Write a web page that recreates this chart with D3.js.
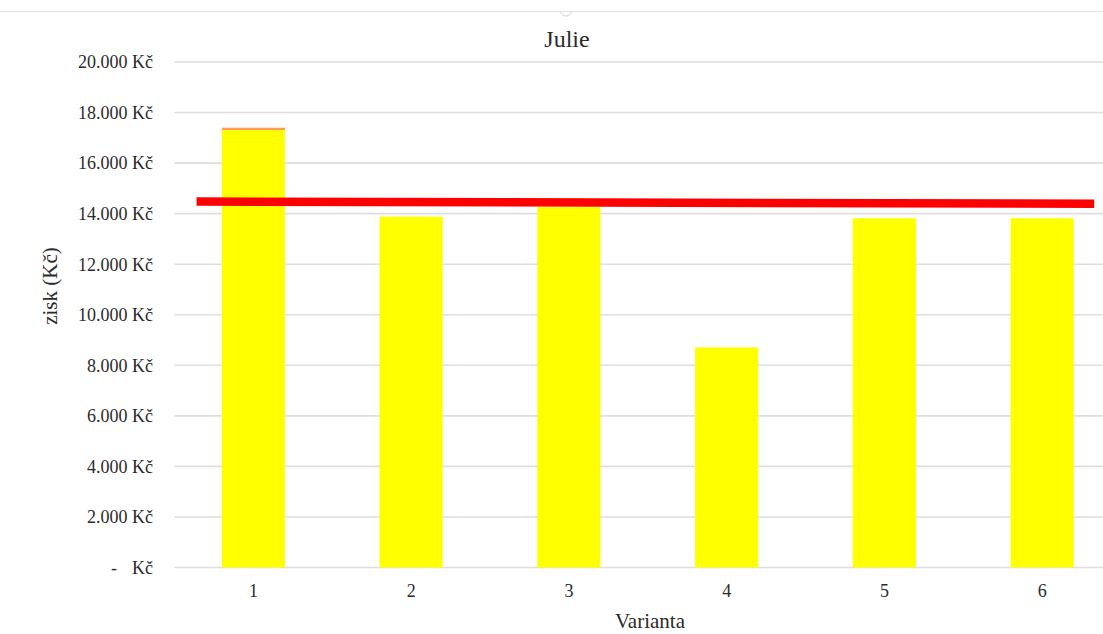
<!DOCTYPE html>
<html>
<head>
<meta charset="utf-8">
<script src="https://cdn.jsdelivr.net/npm/d3@7/dist/d3.min.js"></script>
<style>
  html, body { margin: 0; padding: 0; background: #fff; overflow: hidden; }
  svg { display: block; }
  text { font-family: "Liberation Serif", "Times New Roman", serif; fill: #2b2b2b; }
</style>
</head>
<body>
<svg id="chart" width="1103" height="634"></svg>
<script>
// Profit per variant for July
const varianty = ["1", "2", "3", "4", "5", "6"];
const zisk = [17310, 13880, 14260, 8710, 13820, 13820];
const navyseni = [90, 0, 0, 0, 0, 0];
// Reference level drawn across the variants (x in variant units)
const hladinaX = [0.64, 6.33];
const hladinaY = [14480, 14390];
const yTicks = [0, 2000, 4000, 6000, 8000, 10000, 12000, 14000, 16000, 18000, 20000];

const W = 1103, H = 634;
const margin = { top: 62, left: 174.5, bottom: 634 - 567.5 };
const plotRight = 1121;

const svg = d3.select("#chart");

const x = d3.scaleBand().domain(varianty).range([margin.left, plotRight]).paddingInner(0.6).paddingOuter(0.3);
const xc = d3.scaleLinear().domain([0.5, 6.5]).range([margin.left, plotRight]);
const y = d3.scaleLinear().domain([0, 20000]).range([H - margin.bottom, margin.top]);

// outer frame line at the top
svg.append("line").attr("x1", 0).attr("x2", W).attr("y1", 11.5).attr("y2", 11.5)
  .attr("stroke", "#e4e4e4").attr("stroke-width", 1.2);
svg.append("path").attr("d", "M561,12 a5,4 0 0 0 10,0").attr("fill", "none")
  .attr("stroke", "#d0d0d0").attr("stroke-width", 1);

// gridlines
svg.append("g").selectAll("line").data(yTicks).join("line")
  .attr("x1", margin.left).attr("x2", W)
  .attr("y1", d => y(d)).attr("y2", d => y(d))
  .attr("stroke", "#dedede").attr("stroke-width", 1.6);

// y tick labels (accounting format)
const fmt = d => d3.format(",")(d).replace(/,/g, ".") + " Kč";
const yl = svg.append("g");
yl.selectAll("text.v").data(yTicks).join("text").attr("class", "v")
  .attr("x", 153).attr("y", d => y(d)).attr("dy", "0.35em")
  .attr("text-anchor", "end").attr("font-size", 18)
  .text(d => d === 0 ? "Kč" : fmt(d));
yl.append("text").attr("x", 114).attr("y", y(0)).attr("dy", "0.35em")
  .attr("text-anchor", "middle").attr("font-size", 18).text("-");

// bars
const stack = varianty.map((v, i) => ({ v, a: zisk[i], b: navyseni[i] }));
svg.append("g").selectAll("rect").data(stack).join("rect")
  .attr("x", d => x(d.v)).attr("width", x.bandwidth())
  .attr("y", d => y(d.a)).attr("height", d => y(0) - y(d.a))
  .attr("fill", "#ffff00");
svg.append("g").selectAll("rect").data(stack.filter(d => d.b > 0)).join("rect")
  .attr("x", d => x(d.v)).attr("width", x.bandwidth())
  .attr("y", d => y(d.a + d.b)).attr("height", d => y(d.a) - y(d.a + d.b))
  .attr("fill", "#ff9a60");

// reference level
svg.append("path")
  .datum(hladinaX.map((v, i) => [v, hladinaY[i]]))
  .attr("d", d3.line().x(d => xc(d[0])).y(d => y(d[1])))
  .attr("stroke", "#ff0000").attr("stroke-width", 8.5).attr("fill", "none");

// x labels
svg.append("g").selectAll("text").data(varianty).join("text")
  .attr("x", d => x(d) + x.bandwidth() / 2).attr("y", 597)
  .attr("text-anchor", "middle").attr("font-size", 18).text(d => d);

// titles
svg.append("text").attr("x", 567).attr("y", 47).attr("text-anchor", "middle")
  .attr("font-size", 24).text("Julie");
svg.append("text").attr("x", 650).attr("y", 628).attr("text-anchor", "middle")
  .attr("font-size", 21).text("Varianta");
svg.append("text").attr("transform", "translate(50,286) rotate(-90)")
  .attr("text-anchor", "middle").attr("dy", "0.35em").attr("font-size", 21).text("zisk (Kč)");
</script>
</body>
</html>
